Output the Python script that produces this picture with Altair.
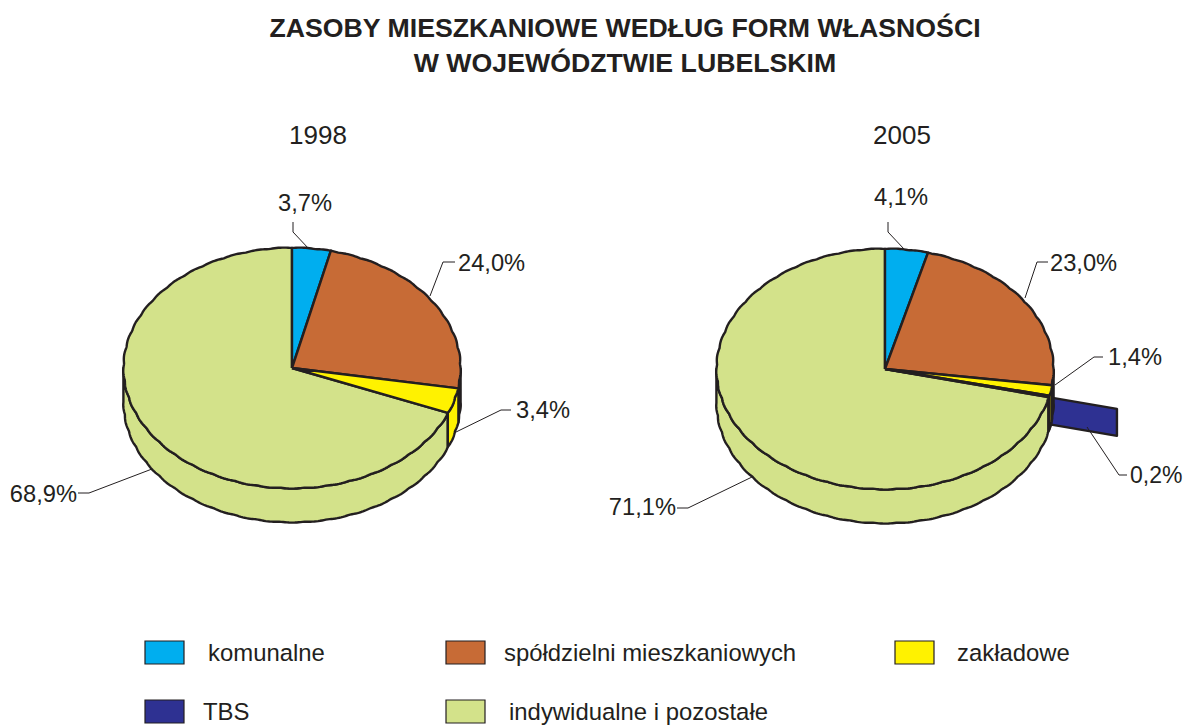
import numpy as np
import pandas as pd
import altair as alt

# ---- chart values ----
categories = ["komunalne", "spółdzielni mieszkaniowych", "zakładowe", "TBS", "indywidualne i pozostałe"]
colors = ["#00AEEF", "#C76B36", "#FFF200", "#2E3192", "#D3E28A"]
side_colors = ["#00AEEF", "#6B2F4F", "#FFF200", "#2E3192", "#D3E28A"]
years = ["1998", "2005"]
values_1998 = [3.7, 24.0, 3.4, 0.0, 68.9]
values_2005 = [4.1, 23.0, 1.4, 0.2, 71.1]
title_lines = ["ZASOBY MIESZKANIOWE WEDŁUG FORM WŁASNOŚCI", "W WOJEWÓDZTWIE LUBELSKIM"]

# ---- layout ----
INK = "#231F20"
FONT = "Liberation Sans"
RX, RY, DEPTH = 168, 120, 34
CENTERS = {"1998": (292, 368), "2005": (885, 369)}
EXPLODE, EXPLODE_DEPTH = 1.42, 27

x_scale = alt.Scale(domain=[8, 1184], range=[0, 1176], nice=False, zero=False)
y_scale = alt.Scale(domain=[8, 725], range=[0, 717], nice=False, zero=False)
X = lambda: alt.X("x:Q", scale=x_scale, axis=None)
Y = lambda: alt.Y("y:Q", scale=y_scale, axis=None)


def rim(deg):
    t = np.radians(deg)
    r = 1 + 0.005 * np.abs(np.sin(22.5 * t))
    return np.sin(t) * RX * r, -np.cos(t) * RY * r


def poly(xs, ys, fill, width=2.4):
    xs, ys = list(xs) + [xs[0]], list(ys) + [ys[0]]
    df = pd.DataFrame({"x": xs, "y": ys, "o": range(len(xs))})
    return alt.Chart(df).mark_line(
        fill=fill, stroke=INK, strokeWidth=width, strokeJoin="round", interpolate="linear"
    ).encode(x=X(), y=Y(), order="o:Q")


def line(points, width=1.0):
    df = pd.DataFrame(points, columns=["x", "y"]).assign(o=range(len(points)))
    return alt.Chart(df).mark_line(stroke=INK, strokeWidth=width, interpolate="linear").encode(
        x=X(), y=Y(), order="o:Q"
    )


def text(s, x, y, align="left", size=23.7, bold=False):
    df = pd.DataFrame({"x": [x], "y": [y + 1], "t": [s]})
    return alt.Chart(df).mark_text(
        font=FONT, fontSize=size, fontWeight="bold" if bold else "normal", color=INK, align=align, baseline="middle"
    ).encode(x=X(), y=Y(), text="t:N")


def pie(year, vals):
    cx, cy = CENTERS[year]
    edges = np.concatenate([[0], np.cumsum(vals)]) / sum(vals) * 360
    walls, sides, tops = [], [], []
    # side walls: only the front half of the disc shows
    order = [4, 0, 1, 2, 3]
    for i in order:
        a0, a1 = edges[i], edges[i + 1]
        if vals[i] == 0:
            continue
        lo, hi = max(a0, 90), min(a1, 270)
        if hi > lo:
            ang = np.linspace(lo, hi, max(2, int((hi - lo) * 1.5) + 2))
            ex, ey = rim(ang)
            xs = np.concatenate([cx + ex, (cx + ex)[::-1]])
            ys = np.concatenate([cy + ey, (cy + ey + DEPTH)[::-1]])
            sides.append(poly(list(xs), list(ys), side_colors[i]))
        ang = np.linspace(a0, a1, max(2, int((a1 - a0) * 1.5) + 2))
        ex, ey = rim(ang)
        tops.append(poly([cx] + list(cx + ex), [cy] + list(cy + ey), colors[i]))
        if categories[i] == "TBS":
            mid = np.radians(a1)
            dx, dy = np.sin(mid) * RX, -np.cos(mid) * RY
            xs = [cx + dx, cx + dx * EXPLODE, cx + dx * EXPLODE, cx + dx]
            ys = [cy + dy, cy + dy * EXPLODE, cy + dy * EXPLODE + EXPLODE_DEPTH, cy + dy + EXPLODE_DEPTH]
            walls.append(poly(xs, ys, colors[i]))
    return walls + sides + tops


layers = []
layers += pie("1998", values_1998)
layers += pie("2005", values_2005)

# leader lines
leaders = [
    [(293, 222), (293, 232), (309, 249)],
    [(455, 262), (443, 262), (430, 296)],
    [(511, 410), (501, 410), (454, 433)],
    [(78, 493), (89, 493), (152, 469)],
    [(888, 222), (888, 232), (904, 249)],
    [(1048, 262), (1037, 262), (1025, 298)],
    [(1103, 357), (1094, 357), (1055, 385)],
    [(1127, 475), (1119, 475), (1087, 427)],
    [(677, 508), (688, 508), (752, 477)],
]
layers += [line(p) for p in leaders]

# value labels
def pct(v):
    return f"{v:.1f}".replace(".", ",") + "%"

layers += [
    text(pct(values_1998[0]), 305, 203, "center"),
    text(pct(values_1998[1]), 458, 263),
    text(pct(values_1998[2]), 516, 410),
    text(pct(values_1998[4]), 77, 494, "right"),
    text(pct(values_2005[0]), 901, 197, "center"),
    text(pct(values_2005[1]), 1050, 263),
    text(pct(values_2005[2]), 1108, 357),
    text(pct(values_2005[3]), 1130, 475, size=23),
    text(pct(values_2005[4]), 676, 507, "right"),
    text(years[0], 318, 135, "center", size=26),
    text(years[1], 902, 135, "center", size=26),
    text(title_lines[0], 625, 28, "center", size=26.7, bold=True),
    text(title_lines[1], 625, 63, "center", size=26.7, bold=True),
]

# legend
legend_cells = [(145, 641, 208), (446, 641, 504), (895, 641, 957), (145, 700, 203), (446, 700, 509)]
for (sx, sy, tx), cat, col in zip(legend_cells, categories, colors):
    df = pd.DataFrame({"x": [sx], "x2": [sx + 39], "y": [sy], "y2": [sy + 23]})
    layers.append(
        alt.Chart(df).mark_rect(fill=col, stroke=INK, strokeWidth=1.2).encode(
            x=X(), x2="x2:Q", y=Y(), y2="y2:Q"
        )
    )
    layers.append(text(cat, tx, sy + 12, size=23.9))

chart = alt.layer(*layers).properties(
    width=1176, height=717, padding=0, autosize=alt.AutoSizeParams(type="none")
).configure_view(stroke=None)

chart.save("out.html", embed_options={"renderer": "svg", "actions": False})
